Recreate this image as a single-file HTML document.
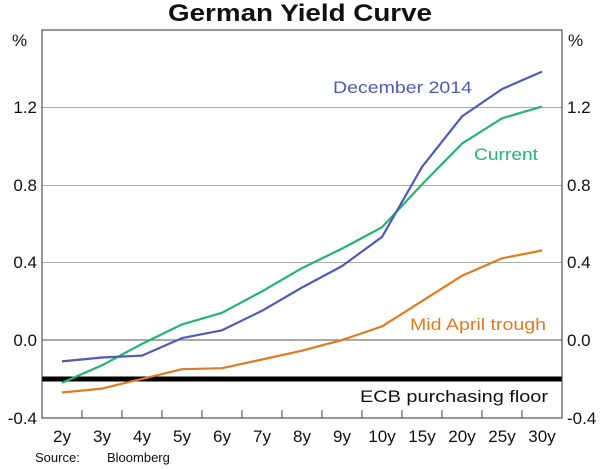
<!DOCTYPE html>
<html><head><meta charset="utf-8"><style>
body{margin:0;background:#fff;}
svg{display:block;font-family:"Liberation Sans",Arial,sans-serif;}
</style></head><body>
<svg width="600" height="469" viewBox="0 0 600 469" xmlns="http://www.w3.org/2000/svg">
<text x="168" y="21" font-size="24" font-weight="bold" fill="#111" textLength="264" lengthAdjust="spacingAndGlyphs">German Yield Curve</text>
<g stroke="#aaa" stroke-width="1">
<line x1="42" y1="107.5" x2="562" y2="107.5"/>
<line x1="42" y1="185.5" x2="562" y2="185.5"/>
<line x1="42" y1="262.5" x2="562" y2="262.5"/>
</g>
<line x1="42" y1="340" x2="562" y2="340" stroke="#777" stroke-width="1.2"/>
<g font-size="17" fill="#111">
<text x="12" y="46">%</text><text x="568" y="46">%</text>
<g text-anchor="end">
<text x="37" y="113">1.2</text><text x="37" y="191">0.8</text><text x="37" y="268">0.4</text><text x="37" y="346">0.0</text><text x="37" y="424">-0.4</text>
</g>
<g text-anchor="start">
<text x="567" y="113">1.2</text><text x="567" y="191">0.8</text><text x="567" y="268">0.4</text><text x="567" y="346">0.0</text><text x="567" y="424">-0.4</text>
</g>
<g text-anchor="middle">
<text x="62" y="442">2y</text><text x="102" y="442">3y</text><text x="142" y="442">4y</text><text x="182" y="442">5y</text><text x="222" y="442">6y</text><text x="262" y="442">7y</text><text x="302" y="442">8y</text><text x="342" y="442">9y</text><text x="382" y="442">10y</text><text x="422" y="442">15y</text><text x="462" y="442">20y</text><text x="502" y="442">25y</text><text x="542" y="442">30y</text>
</g>
</g>
<g stroke="#444" stroke-width="1">
<line x1="82" y1="418" x2="82" y2="410"/><line x1="122" y1="418" x2="122" y2="410"/><line x1="162" y1="418" x2="162" y2="410"/><line x1="202" y1="418" x2="202" y2="410"/><line x1="242" y1="418" x2="242" y2="410"/><line x1="282" y1="418" x2="282" y2="410"/><line x1="322" y1="418" x2="322" y2="410"/><line x1="362" y1="418" x2="362" y2="410"/><line x1="402" y1="418" x2="402" y2="410"/><line x1="442" y1="418" x2="442" y2="410"/><line x1="482" y1="418" x2="482" y2="410"/><line x1="522" y1="418" x2="522" y2="410"/>
</g>
<line x1="42" y1="379" x2="562" y2="379" stroke="#000" stroke-width="5"/>
<text x="360" y="402" font-size="17" fill="#111" textLength="188" lengthAdjust="spacingAndGlyphs">ECB purchasing floor</text>
<g fill="none" stroke-width="2.2" stroke-linejoin="round">
<polyline stroke="#e07b1f" points="62,392.5 102,388.6 142,378.9 182,369.2 222,368.2 262,359.5 302,350.7 342,340 382,326.4 422,301.1 462,275.8 502,258.3 542,250.5"/>
<polyline stroke="#22b573" points="62,382.8 102,365.3 142,343.9 182,324.4 222,312.8 262,291.4 302,268.1 342,248.6 382,227.2 422,184.4 462,143.6 502,118.3 542,106.6"/>
<polyline stroke="#4f5bb5" points="62,361.4 102,357.5 142,355.6 182,338.1 222,330.3 262,310.8 302,287.5 342,266.1 382,236.9 422,166.9 462,116.4 502,89.1 542,71.6"/>
</g>
<text x="333" y="93" font-size="17" fill="#4f5bb5" textLength="139" lengthAdjust="spacingAndGlyphs">December 2014</text>
<text x="474" y="160" font-size="17" fill="#22b573" textLength="64" lengthAdjust="spacingAndGlyphs">Current</text>
<text x="410" y="330" font-size="17" fill="#e07b1f" textLength="136" lengthAdjust="spacingAndGlyphs">Mid April trough</text>
<rect x="42" y="30" width="520" height="388" fill="none" stroke="#333" stroke-width="1"/>
<text x="35" y="462" font-size="13" fill="#111">Source:</text>
<text x="107" y="462" font-size="13" fill="#111">Bloomberg</text>
</svg>
</body></html>
